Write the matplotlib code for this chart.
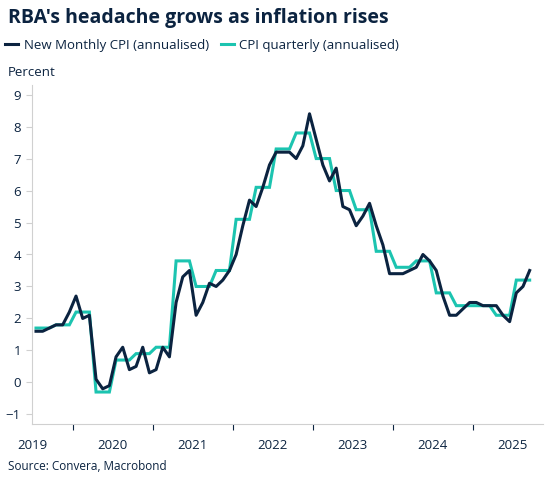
import matplotlib
matplotlib.use("Agg")
import matplotlib.pyplot as plt
import numpy as np

plt.rcParams['font.family'] = ['Open Sans', 'DejaVu Sans']

monthly = [1.6, 1.6, 1.7, 1.8, 1.8, 2.2, 2.7, 2.0, 2.1, 0.1, -0.2, -0.1,
           0.8, 1.1, 0.4, 0.5, 1.1, 0.3, 0.4, 1.1, 0.8, 2.5, 3.3, 3.5,
           2.1, 2.5, 3.1, 3.0, 3.2, 3.5, 4.0, 4.9, 5.7, 5.5, 6.1, 6.8,
           7.2, 7.2, 7.2, 7.0, 7.4, 8.4, 7.6, 6.8, 6.3, 6.7, 5.5, 5.4,
           4.9, 5.2, 5.6, 4.9, 4.3, 3.4, 3.4, 3.4, 3.5, 3.6, 4.0, 3.8,
           3.5, 2.7, 2.1, 2.1, 2.3, 2.5, 2.5, 2.4, 2.4, 2.4, 2.1, 1.9,
           2.8, 3.0, 3.5]
quarterly = [1.7, 1.8, 2.2, -0.3, 0.7, 0.9, 1.1, 3.8, 3.0, 3.5, 5.1, 6.1,
             7.3, 7.8, 7.0, 6.0, 5.4, 4.1, 3.6, 3.8, 2.8, 2.4, 2.4, 2.1, 3.2]
years = ['2019', '2020', '2021', '2022', '2023', '2024', '2025']

navy = '#0b2340'
teal = '#1cc4b0'
grey = '#d0d0d0'

fig = plt.figure(figsize=(5.6, 4.86), dpi=100)
ax = fig.add_axes([32/560, 1-424/486, (543-32)/560, (424-85)/486])

q_monthly = np.repeat(quarterly, 3)
x = np.arange(len(monthly))
ax.plot(np.arange(len(q_monthly)), q_monthly, color=teal, lw=2.2, solid_joinstyle='miter')
ax.plot(x, monthly, color=navy, lw=2.2)

ax.set_xlim(-0.6, 76)
ax.set_ylim(-1.3, 9.3)
ax.set_yticks(range(-1, 10))
ax.tick_params(axis='y', length=4, color=grey, labelsize=9.5, labelcolor=navy, pad=4)
ax.set_xticks([12*i + 5.5 for i in range(6)])
ax.set_xticklabels([])
ax.tick_params(axis='x', length=4, color=navy, width=0.8)
for i, yv in enumerate(years):
    ax.text(12*i - 0.5, -0.045, yv, transform=ax.get_xaxis_transform(),
            ha='center', va='top', fontsize=9.5, color=navy)
for s in ['top', 'right']:
    ax.spines[s].set_visible(False)
for s in ['left', 'bottom']:
    ax.spines[s].set_color(grey)

fig.text(8/560, 1-18/486, "RBA's headache grows as inflation rises", fontsize=14,
         fontweight='bold', color=navy, va='center', ha='left')
fig.text(8/560, 1-73/486, 'Percent', fontsize=9.5, color=navy, va='center')
fig.text(8/560, 1-466/486, 'Source: Convera, Macrobond', fontsize=8.5, color=navy, va='center')

from matplotlib.lines import Line2D
h = [Line2D([], [], color=navy, lw=2.2), Line2D([], [], color=teal, lw=2.2)]
fig.legend(h, ['New Monthly CPI (annualised)', 'CPI quarterly (annualised)'],
           loc='center left', bbox_to_anchor=(0, 1-45/486), ncol=2, frameon=False,
           fontsize=9.5, handlelength=1.0, handletextpad=0.4, columnspacing=0.9,
           borderaxespad=0, labelcolor=navy)

fig.savefig('out.png', dpi=100)
